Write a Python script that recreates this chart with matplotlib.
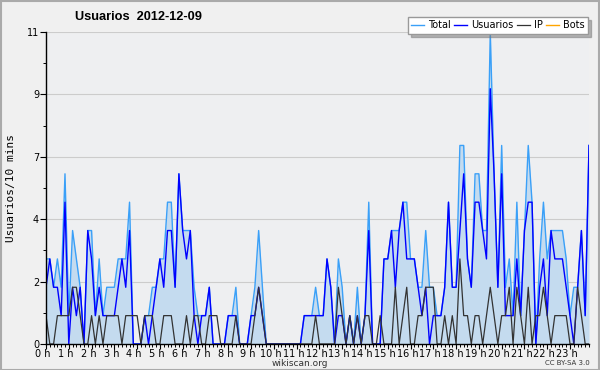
import matplotlib
matplotlib.use("Agg")
import matplotlib.pyplot as plt
import matplotlib.transforms as mtransforms
import numpy as np

title = "Usuarios  2012-12-09"
ylabel = "Usuarios/10 mins"
hour_labels = [f"{h} h" for h in range(24)]
ytick_labels = ["0", "2", "4", "7", "9", "11"]

total = [3,3,2,3,2,6, 1,4,3,2,0,4, 4,1,3,1,2,2, 2,3,3,3,5,0,
         0,0,1,1,2,2, 3,3,5,5,2,6, 4,4,4,2,1,1, 1,2,0,0,0,0,
         1,1,2,0,0,0, 1,2,4,2,0,0, 0,0,0,0,0,0, 0,0,1,1,1,2,
         1,1,3,2,0,3, 2,0,1,0,2,0, 1,5,0,0,0,3, 3,4,4,4,5,5,
         3,3,2,2,4,2, 2,1,1,2,5,2, 2,7,7,3,2,6, 6,4,4,11,6,2,
         7,2,3,1,5,1, 4,7,5,0,3,5, 3,4,4,4,4,3, 1,2,2,4,1,7]
usuarios = [2,3,2,2,1,5, 0,2,1,2,0,4, 3,1,2,1,1,1, 1,2,3,2,4,0,
            0,0,1,0,1,2, 3,2,4,4,2,6, 4,3,4,1,0,1, 1,2,0,0,0,0,
            1,1,1,0,0,0, 1,1,2,1,0,0, 0,0,0,0,0,0, 0,0,1,1,1,1,
            1,1,3,2,0,1, 1,0,1,0,1,0, 1,4,0,0,0,3, 3,4,2,4,5,3,
            3,3,2,1,2,0, 1,1,1,2,5,2, 2,4,6,3,2,5, 5,4,3,9,6,2,
            6,1,1,1,3,1, 4,5,5,0,2,3, 1,4,3,3,3,2, 1,0,2,4,1,7]
ip = [1,0,0,1,1,1, 1,2,2,1,0,0, 1,0,1,0,1,1, 1,1,0,1,1,1,
      1,0,1,1,1,0, 0,1,1,1,0,0, 0,1,0,1,1,0, 0,1,1,1,0,0,
      0,0,1,0,0,0, 0,1,2,1,0,0, 0,0,0,0,0,0, 0,0,0,0,0,1,
      0,0,0,0,0,2, 1,0,1,0,1,0, 1,1,0,0,1,0, 0,0,2,0,1,2,
      0,0,1,1,2,2, 2,0,0,1,0,1, 0,3,1,1,0,1, 1,0,1,2,1,0,
      1,1,2,0,2,1, 0,2,0,1,1,2, 1,0,1,1,1,1, 0,0,2,1,0,0]
bots = [0] * 144

x = np.arange(len(total))

fig = plt.figure(figsize=(6.0, 3.7), dpi=100, facecolor="#f0f0f0")
ax = fig.add_axes([46/600, 1-344/370, (589-46)/600, (344-32)/370])
ax.set_facecolor("#eeeff1")

ax.fill_between(x, total, 0, color="#c4dbef", lw=0, zorder=1)
ax.plot(x, total, color="#3aa0f8", lw=1.0, zorder=3, label="Total")
ax.plot(x, usuarios, color="#0000ff", lw=1.0, zorder=4, label="Usuarios")
ax.plot(x, ip, color="#333333", lw=0.9, zorder=5, label="IP")
ax.plot([], [], color="#ffa500", lw=1.0, label="Bots")

ax.set_xlim(0, len(total) - 1)
ax.set_ylim(0, 11)
yt = np.linspace(0, 11, 6)
ax.set_yticks(yt)
ax.set_yticklabels(ytick_labels)
ax.set_yticks(np.arange(0, 11.01, 1.1), minor=True)
ax.set_xticks(np.arange(0, 144, 6))
ax.set_xticklabels(hour_labels)
ax.set_xticks(np.arange(0, 144, 1), minor=True)

for s in ["top", "right"]:
    ax.spines[s].set_visible(False)
for s in ["left", "bottom"]:
    ax.spines[s].set_linewidth(1.0)
    ax.spines[s].set_color("black")
    ax.spines[s].set_zorder(6)

ax.grid(axis="y", which="major", color="#cccccc", lw=0.8, zorder=0)
ax.set_axisbelow(True)
ax.tick_params(axis="y", which="major", labelsize=7, length=4, width=0.8, pad=1, colors="black")
ax.tick_params(axis="both", which="minor", length=2.5, width=0.7)
ax.tick_params(axis="x", which="major", labelsize=7, length=3.5, width=0.8, pad=0)
shift = mtransforms.ScaledTranslation(-3/100, 0, fig.dpi_scale_trans)
for lbl in ax.get_xticklabels():
    lbl.set_transform(lbl.get_transform() + shift)

ax.set_ylabel(ylabel, family="DejaVu Sans Mono", fontsize=8, labelpad=8)
fig.text(300/600, 1-363/370, "wikiscan.org", fontsize=6.5, ha="center", va="center", color="#333333")

fig.text(75/600, 1-17/370, title, fontsize=9.2, fontweight="bold", va="center", ha="left",
         family="Liberation Sans")
fig.text(590/600, 1-363/370, "CC BY-SA 3.0", fontsize=5, ha="right", va="center", color="#333333")

leg = ax.legend(loc="upper right", bbox_to_anchor=(588/600, 1-17/370), bbox_transform=fig.transFigure,
                ncol=4, fontsize=7, frameon=True, fancybox=False, shadow={"color": "#777777"},
                handlelength=1.3, handletextpad=0.4, columnspacing=0.4, borderpad=0.35,
                borderaxespad=0)
leg.get_frame().set_edgecolor("#999999")
leg.get_frame().set_facecolor("white")
leg.set_zorder(10)

border = plt.Rectangle((0.001, 0.001), 0.998, 0.997, transform=fig.transFigure, fill=False,
                       edgecolor="#aaaaaa", lw=1.5)
fig.patches.append(border)

fig.savefig("out.png", dpi=100, facecolor=fig.get_facecolor())
